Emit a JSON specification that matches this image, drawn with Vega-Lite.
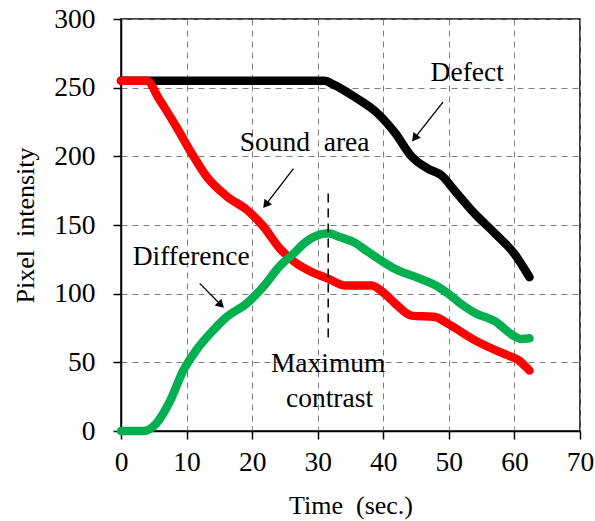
{
  "$schema": "https://vega.github.io/schema/vega-lite/v6.json",
  "width": 459,
  "height": 412,
  "autosize": {"type": "none"},
  "padding": {"left": 121, "top": 19, "right": 15, "bottom": 90},
  "background": "white",
  "config": {
    "font": "Liberation Serif",
    "view": {"stroke": "black", "strokeWidth": 1.5},
    "axis": {
      "labelFont": "Liberation Serif",
      "titleFont": "Liberation Serif",
      "labelFontSize": 27.5,
      "titleFontSize": 26,
      "titleFontWeight": "normal",
      "labelColor": "black",
      "titleColor": "black",
      "domainColor": "black",
      "domainWidth": 1.5,
      "tickColor": "black",
      "tickWidth": 1.5,
      "tickSize": 8,
      "grid": true,
      "gridColor": "#7f7f7f",
      "gridWidth": 1,
      "gridDash": [6, 5]
    }
  },
  "datasets": {
    "curves": [
      {"series": "Defect", "t": 0, "v": 255},
      {"series": "Defect", "t": 31, "v": 255},
      {"series": "Defect", "t": 32.5, "v": 252},
      {"series": "Defect", "t": 35.7, "v": 243},
      {"series": "Defect", "t": 39.2, "v": 231},
      {"series": "Defect", "t": 41.8, "v": 217},
      {"series": "Defect", "t": 44.3, "v": 200},
      {"series": "Defect", "t": 46.8, "v": 191},
      {"series": "Defect", "t": 48.9, "v": 186},
      {"series": "Defect", "t": 50.9, "v": 175},
      {"series": "Defect", "t": 54, "v": 158},
      {"series": "Defect", "t": 57, "v": 144},
      {"series": "Defect", "t": 60, "v": 129},
      {"series": "Defect", "t": 62.3, "v": 112},
      {"series": "Sound area", "t": 0, "v": 255},
      {"series": "Sound area", "t": 3.9, "v": 255},
      {"series": "Sound area", "t": 5.9, "v": 241},
      {"series": "Sound area", "t": 8.5, "v": 221},
      {"series": "Sound area", "t": 10.8, "v": 202},
      {"series": "Sound area", "t": 13.1, "v": 185},
      {"series": "Sound area", "t": 16.1, "v": 171},
      {"series": "Sound area", "t": 19.2, "v": 161},
      {"series": "Sound area", "t": 21.7, "v": 149},
      {"series": "Sound area", "t": 24.2, "v": 133},
      {"series": "Sound area", "t": 26.5, "v": 123},
      {"series": "Sound area", "t": 29, "v": 116},
      {"series": "Sound area", "t": 31.6, "v": 111},
      {"series": "Sound area", "t": 34.1, "v": 106},
      {"series": "Sound area", "t": 38.2, "v": 106},
      {"series": "Sound area", "t": 40.2, "v": 100},
      {"series": "Sound area", "t": 42, "v": 92},
      {"series": "Sound area", "t": 44.3, "v": 84},
      {"series": "Sound area", "t": 47.9, "v": 83},
      {"series": "Sound area", "t": 49.9, "v": 78},
      {"series": "Sound area", "t": 54, "v": 66},
      {"series": "Sound area", "t": 59, "v": 55},
      {"series": "Sound area", "t": 60.5, "v": 52},
      {"series": "Sound area", "t": 62.3, "v": 44},
      {"series": "Difference", "t": 0, "v": 0},
      {"series": "Difference", "t": 3.4, "v": 0},
      {"series": "Difference", "t": 5.4, "v": 5.6},
      {"series": "Difference", "t": 7.5, "v": 22},
      {"series": "Difference", "t": 9.5, "v": 44},
      {"series": "Difference", "t": 11.5, "v": 59},
      {"series": "Difference", "t": 14, "v": 73},
      {"series": "Difference", "t": 16.1, "v": 83},
      {"series": "Difference", "t": 19.2, "v": 93},
      {"series": "Difference", "t": 21.7, "v": 105},
      {"series": "Difference", "t": 24.2, "v": 120},
      {"series": "Difference", "t": 26.5, "v": 130},
      {"series": "Difference", "t": 28, "v": 137},
      {"series": "Difference", "t": 31.6, "v": 144},
      {"series": "Difference", "t": 33.5, "v": 141},
      {"series": "Difference", "t": 35.7, "v": 137},
      {"series": "Difference", "t": 37.5, "v": 131},
      {"series": "Difference", "t": 39.7, "v": 124},
      {"series": "Difference", "t": 41.8, "v": 118},
      {"series": "Difference", "t": 45, "v": 112},
      {"series": "Difference", "t": 48.4, "v": 105},
      {"series": "Difference", "t": 49.9, "v": 100},
      {"series": "Difference", "t": 52, "v": 92},
      {"series": "Difference", "t": 54, "v": 86},
      {"series": "Difference", "t": 57, "v": 80},
      {"series": "Difference", "t": 60, "v": 69},
      {"series": "Difference", "t": 61, "v": 67},
      {"series": "Difference", "t": 62.3, "v": 67.5}
    ],
    "notes": [
      {"label": "Defect", "t": 52.8, "v": 261},
      {"label": "Sound\u00a0 area", "t": 28, "v": 210},
      {"label": "Difference", "t": 10.7, "v": 127},
      {"label": "Maximum", "t": 31.6, "v": 49},
      {"label": "contrast", "t": 31.8, "v": 23}
    ],
    "arrows": [
      {"name": "Defect", "t1": 49.1, "v1": 239.5, "t2": 44.9, "v2": 214, "dir": "down-left"},
      {"name": "Sound area", "t1": 26.3, "v1": 191, "t2": 22.2, "v2": 165.5, "dir": "down-left"},
      {"name": "Difference", "t1": 12, "v1": 107.5, "t2": 15.1, "v2": 92.5, "dir": "down-right"}
    ],
    "marker": [
      {"t": 31.6, "v1": 68, "v2": 177}
    ]
  },
  "layer": [
    {
      "data": {"name": "curves"},
      "mark": {"type": "line", "interpolate": "monotone", "strokeWidth": 8.5, "strokeCap": "round", "strokeJoin": "round"},
      "encoding": {
        "x": {"field": "t", "type": "quantitative", "scale": {"domain": [0, 70], "nice": false},
          "axis": {"values": [0, 10, 20, 30, 40, 50, 60, 70], "title": "Time\u00a0 (sec.)", "labelPadding": 9, "titlePadding": 17, "labelFlush": false}},
        "y": {"field": "v", "type": "quantitative", "scale": {"domain": [0, 300], "nice": false},
          "axis": {"values": [0, 50, 100, 150, 200, 250, 300], "title": "Pixel\u00a0 intensity", "labelPadding": 18, "titlePadding": 15, "labelFlush": false}},
        "color": {"field": "series", "type": "nominal",
          "scale": {"domain": ["Defect", "Sound area", "Difference"], "range": ["#000000", "#ff0000", "#00b050"]},
          "legend": null},
        "order": {"field": "t", "type": "quantitative"}
      }
    },
    {
      "data": {"name": "marker"},
      "mark": {"type": "rule", "color": "black", "strokeWidth": 1.5, "strokeDash": [9, 6]},
      "encoding": {
        "x": {"field": "t", "type": "quantitative"},
        "y": {"field": "v1", "type": "quantitative"},
        "y2": {"field": "v2"}
      }
    },
    {
      "data": {"name": "arrows"},
      "mark": {"type": "rule", "color": "black", "strokeWidth": 1.3},
      "encoding": {
        "x": {"field": "t1", "type": "quantitative"},
        "y": {"field": "v1", "type": "quantitative"},
        "x2": {"field": "t2"},
        "y2": {"field": "v2"}
      }
    },
    {
      "data": {"name": "arrows"},
      "transform": [{"filter": "datum.dir === 'down-left'"}],
      "mark": {"type": "point", "shape": "triangle", "filled": true, "color": "black", "size": 90, "angle": 218, "opacity": 1},
      "encoding": {
        "x": {"field": "t2", "type": "quantitative"},
        "y": {"field": "v2", "type": "quantitative"}
      }
    },
    {
      "data": {"name": "arrows"},
      "transform": [{"filter": "datum.dir === 'down-right'"}],
      "mark": {"type": "point", "shape": "triangle", "filled": true, "color": "black", "size": 90, "angle": 135, "opacity": 1},
      "encoding": {
        "x": {"field": "t2", "type": "quantitative"},
        "y": {"field": "v2", "type": "quantitative"}
      }
    },
    {
      "data": {"name": "notes"},
      "mark": {"type": "text", "font": "Liberation Serif", "fontSize": 27.5, "color": "black", "align": "center", "baseline": "middle"},
      "encoding": {
        "x": {"field": "t", "type": "quantitative"},
        "y": {"field": "v", "type": "quantitative"},
        "text": {"field": "label"}
      }
    }
  ]
}
